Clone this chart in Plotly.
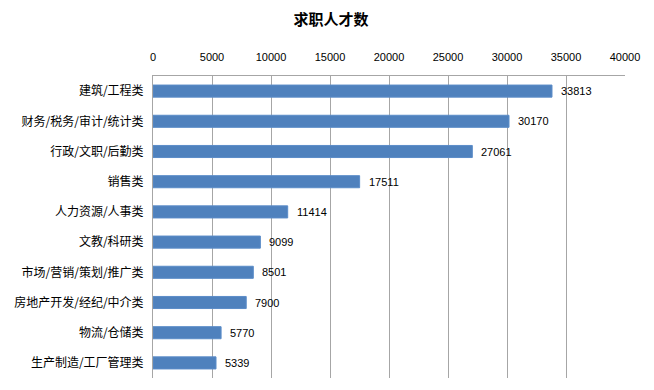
import plotly.graph_objects as go

categories = ["建筑/工程类", "财务/税务/审计/统计类", "行政/文职/后勤类", "销售类",
              "人力资源/人事类", "文教/科研类", "市场/营销/策划/推广类",
              "房地产开发/经纪/中介类", "物流/仓储类", "生产制造/工厂管理类"]
values = [33813, 30170, 27061, 17511, 11414, 9099, 8501, 7900, 5770, 5339]
tick_vals = [0, 5000, 10000, 15000, 20000, 25000, 30000, 35000, 40000]
tick_text = ["0", "5000", "10000", "15000", "20000", "25000", "30000", "35000", "40000"]

font_cjk = "Noto Sans CJK SC, Microsoft YaHei, sans-serif"

fig = go.Figure()
fig.add_trace(go.Bar(
    x=values, y=categories, orientation="h",
    marker=dict(color="#4F81BD", line=dict(color="#5B8CC8", width=1)),
    width=0.4,
))
for c, v in zip(categories, values):
    fig.add_annotation(x=v, y=c, text=str(v), showarrow=False, xanchor="left",
                       xshift=7, font=dict(size=11, color="#000000", family="Liberation Sans, Arial"))

# page body has an 8px default margin; figure is sized to fill the rest of the window
fig.update_layout(
    width=646, height=382,
    margin=dict(l=145, r=29, t=68, b=12),
    paper_bgcolor="white", plot_bgcolor="white",
    showlegend=False,
    title=dict(text="<b>求职人才数</b>", x=0.5, xanchor="center", y=0.969, yanchor="middle",
               font=dict(size=15, color="#000000", family=font_cjk)),
    xaxis=dict(side="top", range=[0, 40000], tickvals=tick_vals, ticktext=tick_text,
               showgrid=True, gridcolor="#A6A6A6", gridwidth=1, automargin=False,
               showline=True, linecolor="#A6A6A6", linewidth=1,
               zeroline=False, ticks="", ticklen=0, ticklabelstandoff=10,
               tickfont=dict(size=11, color="#000000", family="Liberation Sans, Arial")),
    yaxis=dict(autorange="reversed", showline=True, linecolor="#A6A6A6", linewidth=1,
               showgrid=False, ticks="", ticklabelstandoff=6, automargin=False,
               tickfont=dict(size=12, color="#000000", family=font_cjk)),
)
fig.write_html("out.html")
